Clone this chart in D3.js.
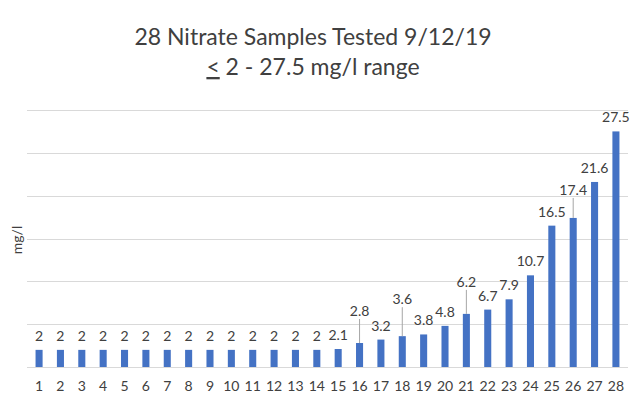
<!DOCTYPE html>
<html>
<head>
<meta charset="utf-8">
<script src="https://cdn.jsdelivr.net/npm/d3@7"></script>
<style>
  body { margin: 0; background: #fff; }
  text { font-family: Lato, "Open Sans", sans-serif; }
</style>
</head>
<body>
<div id="chart"></div>
<script>
var samples = d3.range(1, 29).map(String);
var nitrate = [2, 2, 2, 2, 2, 2, 2, 2, 2, 2, 2, 2, 2, 2, 2.1, 2.8, 3.2, 3.6, 3.8, 4.8, 6.2, 6.7, 7.9, 10.7, 16.5, 17.4, 21.6, 27.5];
var yTicks = [0, 5, 10, 15, 20, 25, 30];

// labels pushed up with a leader line (Excel did this for crowded ones)
var lifted = { "16": 18, "18": 23, "21": 18, "26": 14 };

var width = 642, height = 407;
var margin = { top: 110, right: 14, bottom: 40, left: 27 };

var svg = d3.select("#chart").append("svg")
  .attr("width", width)
  .attr("height", height);

var x = d3.scaleBand()
  .domain(samples)
  .range([margin.left, width - margin.right])
  .paddingInner(0.67)
  .paddingOuter(0.4);

var y = d3.scaleLinear()
  .domain([0, 30])
  .range([367, 110]);

// gridlines
svg.append("g")
  .selectAll("line")
  .data(yTicks)
  .enter()
  .append("line")
  .attr("x1", margin.left)
  .attr("x2", width - margin.right)
  .attr("y1", function (d) { return Math.round(y(d)) + 0.5; })
  .attr("y2", function (d) { return Math.round(y(d)) + 0.5; })
  .attr("stroke", "#d9d9d9")
  .attr("stroke-width", 1);

// bars
svg.append("g")
  .selectAll("rect")
  .data(nitrate)
  .enter()
  .append("rect")
  .attr("x", function (d, i) { return x(samples[i]); })
  .attr("y", function (d) { return y(d); })
  .attr("width", x.bandwidth())
  .attr("height", function (d) { return y(0) - y(d); })
  .attr("fill", "#4472c4");

// leader lines
svg.append("g")
  .selectAll("line")
  .data(samples.filter(function (s) { return lifted[s]; }))
  .enter()
  .append("line")
  .attr("x1", function (s) { return x(s) + x.bandwidth() / 2; })
  .attr("x2", function (s) { return x(s) + x.bandwidth() / 2; })
  .attr("y1", function (s) { return y(nitrate[+s - 1]); })
  .attr("y2", function (s) { return y(nitrate[+s - 1]) - lifted[s] - 6; })
  .attr("stroke", "#a6a6a6")
  .attr("stroke-width", 1);

// value labels
svg.append("g")
  .selectAll("text")
  .data(nitrate)
  .enter()
  .append("text")
  .attr("x", function (d, i) { return x(samples[i]) + x.bandwidth() / 2; })
  .attr("y", function (d, i) { return y(d) - 9 - (lifted[samples[i]] || 0); })
  .attr("text-anchor", "middle")
  .attr("font-size", 14)
  .attr("fill", "#404040")
  .text(function (d) { return d; });

// x axis labels
svg.append("g")
  .attr("transform", "translate(0," + 367 + ")")
  .call(d3.axisBottom(x).tickSize(0).tickPadding(14))
  .call(function (g) { g.select(".domain").remove(); })
  .selectAll("text")
  .attr("font-size", 14)
  .attr("font-family", "Lato, sans-serif")
  .attr("fill", "#404040");

// y axis title
svg.append("text")
  .attr("transform", "translate(22,240) rotate(-90)")
  .attr("text-anchor", "middle")
  .attr("font-size", 14)
  .attr("fill", "#404040")
  .text("mg/l");

// title
var title = svg.append("text")
  .attr("x", 313)
  .attr("text-anchor", "middle")
  .attr("font-size", 23)
  .attr("fill", "#404040");
title.append("tspan").attr("x", 313).attr("y", 45).text("28 Nitrate Samples Tested 9/12/19");
var t2 = title.append("tspan").attr("x", 313).attr("y", 75);
t2.append("tspan").attr("text-decoration", "underline").text("<");
t2.append("tspan").text(" 2 - 27.5 mg/l range");
</script>
</body>
</html>
